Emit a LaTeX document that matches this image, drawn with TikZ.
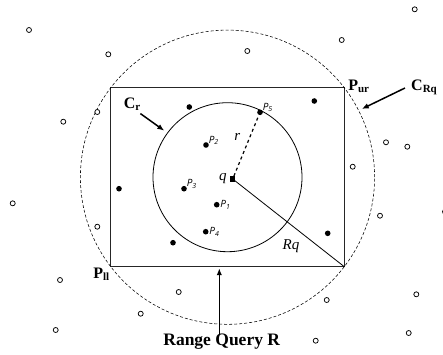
\documentclass[tikz,border=0pt]{standalone}
\usepackage{fontspec}
\setmainfont{Liberation Serif}
\newfontfamily\ptfont{Open Sans}
\usetikzlibrary{positioning,arrows.meta}

% lowered small text for the bold labels
\newcommand{\lowtxt}[1]{\raisebox{-0.3ex}{\fontsize{11}{11}\selectfont #1}}

\begin{document}
\begin{tikzpicture}[
  x=1pt, y=-1pt,
  solidpt/.style={circle, fill=black, inner sep=0pt, minimum size=5.6pt},
  openpt/.style={circle, draw=black, line width=0.75pt, fill=white, inner sep=0pt, minimum size=5pt},
  bold/.style={font=\fontsize{16}{18}\selectfont\bfseries, inner sep=0pt},
  plbl/.style={font=\ptfont\itshape\fontsize{10}{12}\selectfont, inner sep=0.5pt},
  var/.style={font=\fontsize{15}{17}\selectfont\itshape, inner sep=0pt},
  callout/.style={-{Latex[length=7pt,width=5.5pt]}, line width=1.5pt}
]
\useasboundingbox (0,0) rectangle (443,354);

% query window and the two circles
\coordinate (c) at (227.5,177.2);
\coordinate (pll) at (110.7,266.7);
\coordinate (pur) at (344.3,87.7);
\coordinate (plr) at (pur |- pll);
\draw[black!85, line width=1.1pt] (pll) rectangle (pur);
\draw[densely dashed, line width=0.55pt] (c) circle[radius=147.1pt];
\draw[line width=0.8pt] (c) circle[radius=74.5pt];

% query point
\node[fill=black, inner sep=0pt, minimum size=5.5pt] (q) at (232.7,179) {};

% points inside the window
\node[solidpt] (p1) at (216.7,204.7) {};
\node[solidpt] (p2) at (206,145) {};
\node[solidpt] (p3) at (184,188.7) {};
\node[solidpt] (p4) at (205.7,231.7) {};
\node[solidpt] (p5) at (260,112.3) {};
\node[solidpt] (w1) at (189.3,107) {};
\node[solidpt] (w2) at (314.3,101) {};
\node[solidpt] (w3) at (119,188.7) {};
\node[solidpt] (w4) at (173,242.7) {};
\node[solidpt] (w5) at (327.7,233.3) {};

% points outside the window
\foreach \x/\y [count=\i] in {29/30, 414.7/9.3, 108.3/54.3, 247.3/51, 341.7/40,
    97.3/112, 63.3/121.7, 386/142.3, 407.3/146.7, 352.7/166.7, 12.7/203.3,
    380/215.7, 445/211.7, 97.3/226.7, 60/280, 178.7/292, 326.7/300,
    416.3/294.3, 140.7/313.7, 55.7/330, 408.7/333, 315.7/340.7}
  \node[openpt] (o\i) at (\x,\y) {};

% radii
\draw[dashed, line width=1.2pt] (q) -- (p5);
\draw[line width=0.8pt] (q.center) -- (plr);

% point labels
\node[plbl, above right=-2.5pt and 0pt of p5] (l5) {P\textsubscript{5}};
\node[plbl, above right=-2.5pt and 0pt of p2] (l2) {P\textsubscript{2}};
\node[plbl, above right=-2.5pt and 0pt of p3] (l3) {P\textsubscript{3}};
\node[plbl, right=0pt of p1] (l1) {P\textsubscript{1}};
\node[plbl, right=0pt of p4] (l4) {P\textsubscript{4}};
\node[var, left=3pt of q] (lq) {q};
\node[var] (lr) at (237.3,136.7) {r};
\node[var] (lrq) at (291,245.7) {Rq};

% corner and circle labels
\node[bold] (lur) at (358.7,86) {P\lowtxt{ur}};
\node[bold] (lll) at (101.3,274.5) {P\lowtxt{ll}};
\node[bold] (lcr) at (132,104) {C\lowtxt{r}};
\node[bold] (lcrq) at (424,87) {C\lowtxt{Rq}};
\node[font=\fontsize{17.5}{20}\selectfont\bfseries, inner sep=0pt] (lrange) at (221.7,342) {Range Query R};

% callouts
\coordinate (tcr) at (164.3,130.7);
\coordinate (tcrq) at (361.7,109);
\coordinate (trange) at (219.3,268.2);
\draw[callout] (lcr.south east) ++(0,3) -- (tcr);
\draw[callout] (lcrq.west) ++(-6,1) -- (tcrq);
\draw[callout] (lrange.north -| trange) -- (trange);

\end{tikzpicture}
\end{document}
